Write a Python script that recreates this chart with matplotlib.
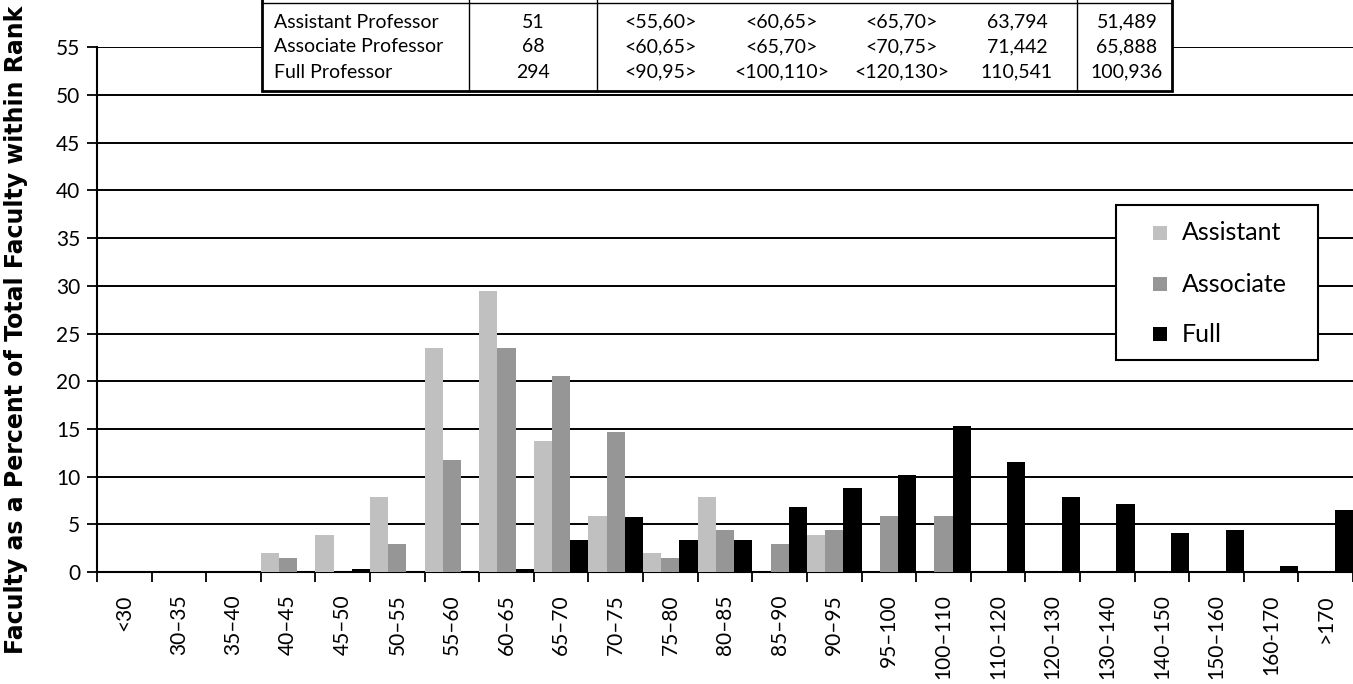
import matplotlib
matplotlib.use("Agg")
import numpy as np
import matplotlib.pyplot as plt
from matplotlib.patches import Rectangle
from matplotlib.lines import Line2D

plt.rcParams['font.family'] = ['Lato', 'DejaVu Sans']

# salary bins ($1000s)
bins = ["<30", "30\u201335", "35\u201340", "40\u201345", "45\u201350", "50\u201355",
        "55\u201360", "60\u201365", "65\u201370", "70\u201375", "75\u201380", "80\u201385",
        "85\u201390", "90\u201395", "95\u2013100", "100\u2013110", "110\u2013120",
        "120\u2013130", "130\u2013140", "140\u2013150", "150\u2013160", "160-170", ">170"]

# percent of faculty within rank
assistant = [0, 0, 0, 1.96, 3.92, 7.84, 23.53, 29.41, 13.73, 5.88, 1.96, 7.84,
             0, 3.92, 0, 0, 0, 0, 0, 0, 0, 0, 0]
associate = [0, 0, 0, 1.47, 0, 2.94, 11.76, 23.53, 20.59, 14.71, 1.47, 4.41,
             2.94, 4.41, 5.88, 5.88, 0, 0, 0, 0, 0, 0, 0]
full = [0, 0, 0, 0, 0.34, 0, 0, 0.34, 3.40, 5.78, 3.40, 3.40,
        6.80, 8.84, 10.20, 15.31, 11.56, 7.82, 7.14, 4.08, 4.42, 0.68, 6.46]

series_names = ["Assistant", "Associate", "Full"]
series_colors = ["#c0c0c0", "#969696", "black"]

# summary table
ranks = ["Assistant Professor", "Associate Professor", "Full Professor"]
counts = ["51", "68", "294"]
bin_a = ["<55,60>", "<60,65>", "<90,95>"]
bin_b = ["<60,65>", "<65,70>", "<100,110>"]
bin_c = ["<65,70>", "<70,75>", "<120,130>"]
mean_sal = ["63,794", "71,442", "110,541"]
other_sal = ["51,489", "65,888", "100,936"]

W, H = 1353, 684
fig = plt.figure(figsize=(W / 100, H / 100), dpi=100)


def fx(px):
    return px / W


def fy(py):
    return 1 - py / H


ax = fig.add_axes([fx(97), fy(572), fx(1353) - fx(97), fy(47.4) - fy(572)])

x = np.arange(len(bins))
w = 1 / 3
for k, (vals, c) in enumerate(zip([assistant, associate, full], series_colors)):
    ax.bar(x + k * w, vals, width=w, align="edge", color=c, linewidth=0, zorder=3)

ax.set_xlim(0, len(bins))
ax.set_ylim(0, 55)
ax.set_yticks(np.arange(0, 56, 5))
ax.yaxis.grid(True, color="black", linewidth=1.4)
ax.set_axisbelow(True)

ax.set_xticks(np.arange(len(bins) + 1))
ax.set_xticklabels([])
ax.set_xticks(x + 0.5, minor=True)
ax.set_xticklabels(bins, minor=True, rotation=90, va="top", ha="center", fontsize=15)
ax.tick_params(axis="x", which="major", length=7, width=1.3, direction="out")
ax.tick_params(axis="x", which="minor", length=0, pad=16)
ax.tick_params(axis="y", length=7, width=1.3, direction="out", labelsize=15, pad=5)

for s in ["top", "right"]:
    ax.spines[s].set_visible(False)
ax.spines["left"].set_linewidth(1.5)
ax.spines["bottom"].set_linewidth(1.5)

fig.text(fx(16), fy(330), "Faculty as a Percent of Total Faculty within Rank",
         rotation=90, ha="center", va="center", fontsize=17, fontweight="bold",
         family="DejaVu Sans")

# table box over the top of the plot
fig.add_artist(Rectangle((fx(262), fy(91)), fx(1172) - fx(262), fy(-20) - fy(91),
                         facecolor="white", edgecolor="black", linewidth=2,
                         transform=fig.transFigure, zorder=10))
fig.add_artist(Line2D([fx(262), fx(1172)], [fy(3), fy(3)], color="black",
                      linewidth=1, transform=fig.transFigure, zorder=11))
for sx in [469, 597, 1077]:
    fig.add_artist(Line2D([fx(sx), fx(sx)], [fy(-5), fy(91)], color="black",
                          linewidth=1, transform=fig.transFigure, zorder=11))

row_y = [22, 47, 72]
cols = [(counts, 533), (bin_a, 661), (bin_b, 782), (bin_c, 902),
        (mean_sal, 1017), (other_sal, 1127)]
for i, ry in enumerate(row_y):
    fig.text(fx(274), fy(ry), ranks[i], ha="left", va="center", fontsize=14, zorder=12)
    for vals, cx in cols:
        fig.text(fx(cx), fy(ry), vals[i], ha="center", va="center", fontsize=14, zorder=12)

# legend box
fig.add_artist(Rectangle((fx(1116), fy(360)), fx(1318) - fx(1116), fy(205) - fy(360),
                         facecolor="white", edgecolor="black", linewidth=1.5,
                         transform=fig.transFigure, zorder=10))
for ly, name, c in zip([233, 284, 334], series_names, series_colors):
    fig.add_artist(Rectangle((fx(1153), fy(ly + 7)), fx(14), fy(0) - fy(14),
                             facecolor=c, edgecolor="none",
                             transform=fig.transFigure, zorder=11))
    fig.text(fx(1182), fy(ly), name, ha="left", va="center", fontsize=18, zorder=12)

fig.savefig("out.png", dpi=100)
